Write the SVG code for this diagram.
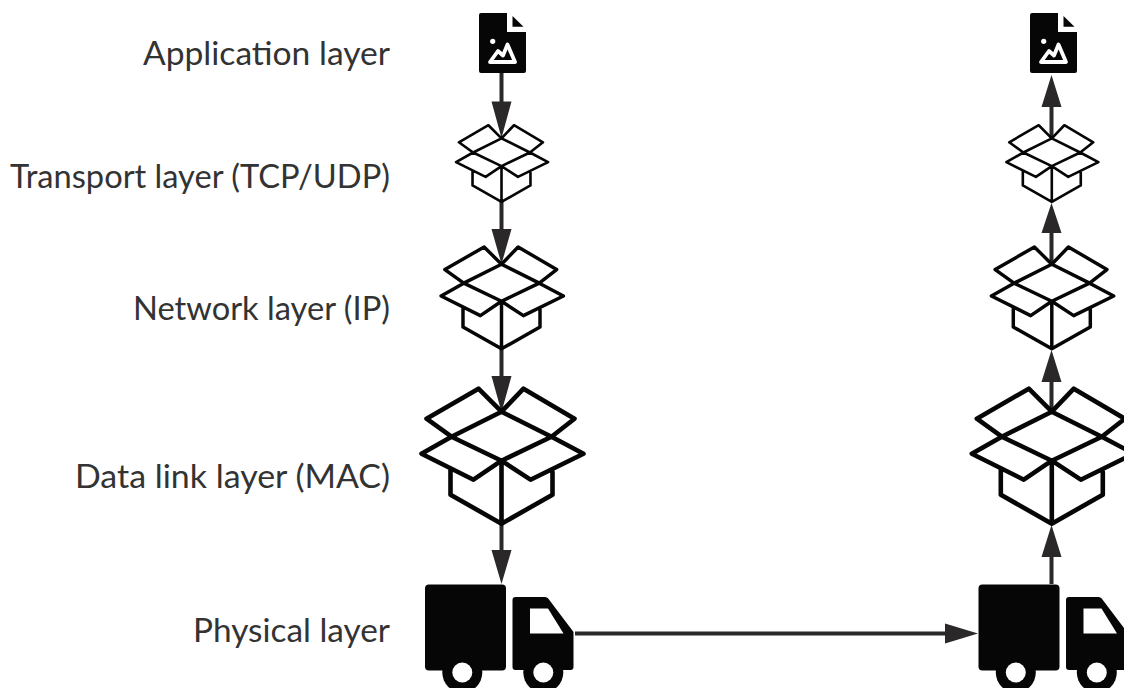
<svg xmlns="http://www.w3.org/2000/svg" width="1124" height="688" viewBox="0 0 1124 688">
<style>
.lbl{font-family:"Lato","Liberation Sans",sans-serif;font-size:33px;fill:#333}
.box{fill:none;stroke:#060606;stroke-linejoin:round;stroke-linecap:round}
.ln{stroke:#2b2829;stroke-width:4;fill:none}
.hd{fill:#2b2829}
.blk{fill:#060606}
</style>
<defs>
<g id="box">
<path class="box" stroke-width="4.600" d="M0 0L-50 25L0 49L50 25ZM0 0L-23-23L-75 7L-50 25M0 0L22-23L73 7L50 25M-50 25L-80 42L-28 68L0 49L29 68L82 42L50 25M-51 58V83L0 112L51 83V60M0 49V112"/>
</g>
<g id="doc">
<path class="blk" d="M479 15a2 2 0 0 1 2-2H507V32H526V71a2 2 0 0 1-2 2H481a2 2 0 0 1-2-2Z"/>
<path class="blk" d="M512.500 16L523.500 26.700H512.500Z"/>
<circle cx="492.700" cy="41.300" r="2.600" fill="#fff"/>
<path d="M490 62L498 51L503 55.500L507.500 44.500L515 62Z" fill="none" stroke="#fff" stroke-width="3.800" stroke-linejoin="round"/>
</g>
<g id="truck">
<rect class="blk" x="425" y="584.500" width="81" height="86" rx="4"/>
<path class="blk" d="M512.500 600a3 3 0 0 1 3-3H545a4 4 0 0 1 3.200 1.500L573.500 632V667a3 3 0 0 1-3 3H515.500a3 3 0 0 1-3-3Z"/>
<path d="M530 608.500H548L563.500 633.500H530Z" fill="#fff"/>
<circle class="blk" cx="462.300" cy="672.500" r="20"/>
<circle cx="462.300" cy="672.500" r="10" fill="#fff"/>
<circle class="blk" cx="543.300" cy="672.500" r="20"/>
<circle cx="543.300" cy="672.500" r="10" fill="#fff"/>
</g>
</defs>
<g id="labels">
<text class="lbl" x="143" y="65" textLength="247" lengthAdjust="spacingAndGlyphs">Application layer</text>
<text class="lbl" x="10" y="188" textLength="380" lengthAdjust="spacingAndGlyphs">Transport layer (TCP/UDP)</text>
<text class="lbl" x="133" y="320" textLength="257" lengthAdjust="spacingAndGlyphs">Network layer (IP)</text>
<text class="lbl" x="75" y="488" textLength="315" lengthAdjust="spacingAndGlyphs">Data link layer (MAC)</text>
<text class="lbl" x="193" y="642" textLength="197" lengthAdjust="spacingAndGlyphs">Physical layer</text>
</g>
<g id="connectors">
<path class="ln" d="M501.500 73V104M501.500 202V232M501.500 348V378M501.500 523V552M1051.500 584V554M1051.500 411V379M1051.500 264V231M1051.500 138V105M575 633.500H947"/>
<path class="hd" d="M491.500 101.500H511.500L501.500 138ZM491.500 229H511.500L501.500 264ZM491.500 376H511.500L501.500 412ZM491.500 550H511.500L501.500 584ZM1041.500 557H1061.500L1051.500 525ZM1041.500 382H1061.500L1051.500 350ZM1041.500 233H1061.500L1051.500 203ZM1041.500 107H1061.500L1051.500 75ZM945 623.500V643.500L978 633.500Z"/>
</g>
<g id="n-doc-l"><use href="#doc"/></g>
<g id="n-small-l"><use href="#box" transform="translate(501.500 138.300) scale(.568)"/></g>
<g id="n-mid-l"><use href="#box" transform="translate(501.500 264.300) scale(.755)"/></g>
<g id="n-big-l"><use href="#box" transform="translate(501.500 411.700)"/></g>
<g id="n-truck-l"><use href="#truck"/></g>
<g id="n-doc-r"><use href="#doc" x="551"/></g>
<g id="n-small-r"><use href="#box" transform="translate(1051.800 138.300) scale(.568)"/></g>
<g id="n-mid-r"><use href="#box" transform="translate(1051.800 264.300) scale(.755)"/></g>
<g id="n-big-r"><use href="#box" transform="translate(1051.800 411.700)"/></g>
<g id="n-truck-r"><use href="#truck" x="553.500"/></g>
</svg>
